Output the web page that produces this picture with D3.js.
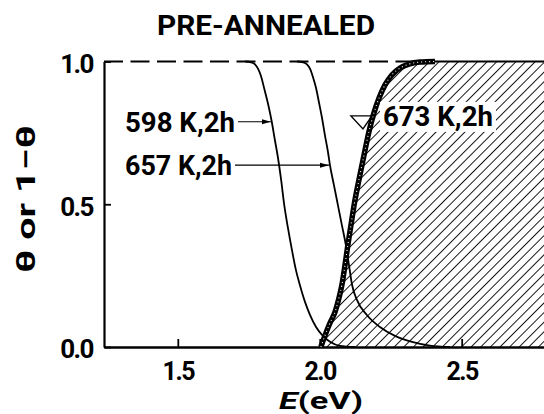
<!DOCTYPE html>
<html>
<head>
<meta charset="utf-8">
<script src="https://cdn.jsdelivr.net/npm/d3@7"></script>
<style>
  html, body { margin: 0; padding: 0; background: #fff; }
  svg { display: block; }
  text { font-family: Roboto, "Liberation Sans", Arial, sans-serif; font-weight: 700; fill: #000; }
</style>
</head>
<body>
<svg id="chart" width="544" height="414"></svg>
<script>
// ---- data -------------------------------------------------------------
const title = "PRE-ANNEALED";
const xTicks = [1.5, 2.0, 2.5];
const xTickLabels = ["1.5", "2.0", "2.5"];
const yTicks = [0.0, 0.5, 1.0];
const yTickLabels = ["0.0", "0.5", "1.0"];
const seriesLabels = ["598 K,2h", "657 K,2h", "673 K,2h"];

// coverage θ after 598 K, 2 h anneal
const e598 = [1.737, 1.758, 1.772, 1.782, 1.793, 1.804, 1.818, 1.831, 1.842, 1.853, 1.864, 1.875,
              1.888, 1.902, 1.916, 1.930, 1.948, 1.966, 1.987, 2.011, 2.036, 2.071, 2.124];
const theta598 = [1.0, 0.997, 0.99, 0.976, 0.949, 0.907, 0.851, 0.789, 0.725, 0.662, 0.585, 0.497,
                  0.417, 0.34, 0.27, 0.217, 0.158, 0.112, 0.07, 0.039, 0.018, 0.004, 0.0];

// coverage θ after 657 K, 2 h anneal
const e657 = [1.920, 1.941, 1.955, 1.966, 1.976, 1.987, 1.997, 2.008, 2.018, 2.029, 2.036, 2.050,
              2.064, 2.078, 2.092, 2.103, 2.114, 2.131, 2.166, 2.212, 2.265, 2.325, 2.388, 2.459];
const theta657 = [1.0, 0.997, 0.99, 0.974, 0.946, 0.907, 0.858, 0.802, 0.743, 0.683, 0.637, 0.567,
                  0.497, 0.427, 0.357, 0.287, 0.217, 0.165, 0.112, 0.07, 0.039, 0.018, 0.005, 0.0];

// 1 − θ after 673 K, 2 h anneal (hatched side)
const e673 = [2.004, 2.018, 2.036, 2.054, 2.066, 2.078, 2.089, 2.099, 2.110, 2.121, 2.138, 2.156,
              2.173, 2.191, 2.209, 2.230, 2.254, 2.283, 2.314, 2.353, 2.406];
const oneMinusTheta673 = [0.0, 0.039, 0.084, 0.123, 0.165, 0.217, 0.287, 0.357, 0.427, 0.497, 0.585, 0.672,
                          0.753, 0.82, 0.872, 0.918, 0.953, 0.977, 0.991, 0.998, 1.0];

// ---- layout -----------------------------------------------------------
const W = 544, H = 414;
const plot = { left: 104, right: 544, top: 61.5, bottom: 347 };
const x = d3.scaleLinear().domain([1.24, 2.79]).range([plot.left, plot.right]);
const y = d3.scaleLinear().domain([0, 1]).range([plot.bottom, plot.top]);

const svg = d3.select("#chart");
svg.append("rect").attr("width", W).attr("height", H).attr("fill", "#fff");

const defs = svg.append("defs");
const hatchGap = 6.8;
defs.append("pattern")
  .attr("id", "hatch")
  .attr("patternUnits", "userSpaceOnUse")
  .attr("width", hatchGap).attr("height", hatchGap)
  .attr("patternTransform", "rotate(45)")
  .append("line")
  .attr("x1", 0).attr("y1", -1).attr("x2", 0).attr("y2", hatchGap + 1)
  .attr("stroke", "#000").attr("stroke-width", 1.8);

defs.append("marker")
  .attr("id", "arrow")
  .attr("markerUnits", "userSpaceOnUse")
  .attr("markerWidth", 9).attr("markerHeight", 6)
  .attr("refX", 9).attr("refY", 3)
  .attr("orient", "auto")
  .append("path").attr("d", "M0,0.5 L9,3 L0,5.5 Z").attr("fill", "#000");

const zip = (xs, ys) => xs.map((v, i) => [v, ys[i]]);
const pts598 = zip(e598, theta598);
const pts657 = zip(e657, theta657);
const pts673 = zip(e673, oneMinusTheta673);

const line = d3.line().x(d => x(d[0])).y(d => y(d[1])).curve(d3.curveMonotoneX);

// ---- hatched region right of the 673 K curve --------------------------
const regionPath = line(pts673) +
  `L${x.range()[1]},${y(1)}L${x.range()[1]},${y(0)}Z`;
svg.append("path").attr("d", regionPath).attr("fill", "url(#hatch)").attr("stroke", "none");

// ---- frame: dashed θ = 1 line, left and bottom axes --------------------
const eTopEnd = e673[e673.length - 1];
svg.append("line")
  .attr("x1", x(x.domain()[0])).attr("x2", x(eTopEnd - 0.04))
  .attr("y1", y(1)).attr("y2", y(1))
  .attr("stroke", "#000").attr("stroke-width", 1.8)
  .attr("stroke-dasharray", "19,7.5");
svg.append("line")
  .attr("x1", x(eTopEnd - 0.05)).attr("x2", x.range()[1])
  .attr("y1", y(1)).attr("y2", y(1))
  .attr("stroke", "#000").attr("stroke-width", 2);

const xAxis = svg.append("g")
  .attr("transform", `translate(0,${y(0)})`)
  .call(d3.axisBottom(x).tickValues(xTicks).tickFormat((d, i) => xTickLabels[i])
    .tickSize(-8).tickPadding(15).tickSizeOuter(0));
xAxis.select(".domain").attr("stroke-width", 2.4);
xAxis.selectAll(".tick line").attr("stroke-width", 1.8);
xAxis.selectAll("text").attr("font-size", 25).attr("font-family", null).attr("letter-spacing", -1.5);

const yAxis = svg.append("g")
  .attr("transform", `translate(${x(x.domain()[0])},0)`)
  .call(d3.axisLeft(y).tickValues(yTicks).tickFormat((d, i) => yTickLabels[i])
    .tickSize(-7).tickPadding(11).tickSizeOuter(0));
yAxis.select(".domain").attr("stroke-width", 2.2);
yAxis.selectAll(".tick line").attr("stroke-width", 1.8);
yAxis.selectAll("text").attr("font-size", 26).attr("font-family", null)
  .attr("letter-spacing", -1.5).attr("dy", "0.42em");
svg.selectAll(".domain").attr("fill", "none");

// ---- curves ------------------------------------------------------------
svg.append("path").attr("d", line(pts598))
  .attr("fill", "none").attr("stroke", "#000").attr("stroke-width", 1.8);
svg.append("path").attr("d", line(pts657))
  .attr("fill", "none").attr("stroke", "#000").attr("stroke-width", 1.8);
svg.append("path").attr("d", line(pts673))
  .attr("fill", "none").attr("stroke", "#000").attr("stroke-width", 5.5);
svg.append("path").attr("d", line(pts673))
  .attr("fill", "none").attr("stroke", "#fff").attr("stroke-width", 1.1)
  .attr("stroke-dasharray", "1,3");

// ---- title and axis titles ---------------------------------------------
svg.append("text")
  .attr("x", 266).attr("y", 35)
  .attr("text-anchor", "middle")
  .attr("font-size", 27)
  .attr("textLength", 218).attr("lengthAdjust", "spacingAndGlyphs")
  .text(title);

svg.append("text")
  .attr("transform", "translate(35,199) rotate(-90)")
  .attr("text-anchor", "middle")
  .attr("font-size", 26)
  .attr("textLength", 148).attr("lengthAdjust", "spacingAndGlyphs")
  .text("θ or 1−θ");

const xTitle = svg.append("text")
  .attr("x", 321).attr("y", 408.5)
  .attr("text-anchor", "middle")
  .attr("font-size", 24)
  .attr("textLength", 84).attr("lengthAdjust", "spacingAndGlyphs");
xTitle.append("tspan").attr("font-style", "italic").text("E");
xTitle.append("tspan").text("(eV)");

// ---- series labels with arrows -----------------------------------------
const arrowLabel = (label, pts, idx, textX, textEnd, width) => {
  const [e, t] = pts[idx];
  svg.append("text")
    .attr("x", textX).attr("y", y(t) + 10)
    .attr("font-size", 28)
    .attr("textLength", width).attr("lengthAdjust", "spacingAndGlyphs")
    .text(label);
  svg.append("line")
    .attr("x1", textEnd + 3).attr("x2", x(e) - 1)
    .attr("y1", y(t)).attr("y2", y(t))
    .attr("stroke", "#000").attr("stroke-width", 1.1)
    .attr("marker-end", "url(#arrow)");
};
arrowLabel(seriesLabels[0], pts598, 7, 125, 235, 110);
arrowLabel(seriesLabels[1], pts657, 10, 125, 232, 107);

// 673 K label sits on a white patch inside the hatching, with a ▽ marker on the curve
const [eM, tM] = pts673[13];
const mx = x(eM) - 4, my = y(tM) + 3;
svg.append("path")
  .attr("d", `M${mx - 19},${my} L${mx + 2},${my} L${mx - 7},${my + 13} Z`)
  .attr("fill", "none").attr("stroke", "#000").attr("stroke-width", 1.4);
svg.append("rect")
  .attr("x", mx + 10).attr("y", my - 14)
  .attr("width", 116).attr("height", 30)
  .attr("fill", "#fff");
svg.append("text")
  .attr("x", mx + 13).attr("y", my + 10)
  .attr("font-size", 28)
  .attr("textLength", 110).attr("lengthAdjust", "spacingAndGlyphs")
  .text(seriesLabels[2]);
</script>
</body>
</html>
